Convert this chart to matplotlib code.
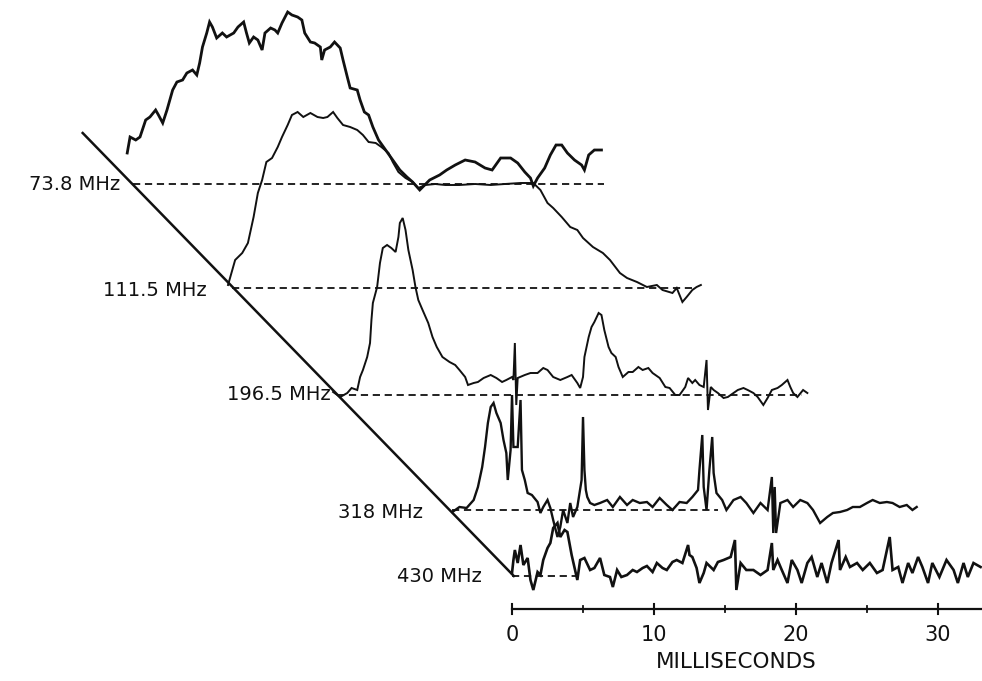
import numpy as np
import matplotlib
matplotlib.use("Agg")
import matplotlib.pyplot as plt

# frequency channels and the level each trace sits at (relative units)
freq_labels = ["73.8 MHz", "111.5 MHz", "196.5 MHz", "318 MHz", "430 MHz"]
offsets = [497, 393, 286, 171, 105]
base_start = [-26.7, -19.7, -12.3, -4.2, 0.0]   # ms, where each baseline begins
base_end = [6.5, 12.7, 20.4, 14.5, 4.6]         # ms, where each dashed baseline stops

# 73.8 MHz profile
t738 = [-27.1, -26.9, -26.5, -26.2, -25.8, -25.5, -25.1, -24.9, -24.6, -24.3,
        -23.9, -23.6, -23.2, -22.9, -22.5, -22.2, -22.0, -21.8, -21.5, -21.3,
        -21.1, -20.8, -20.4, -20.1, -19.6, -19.3, -18.9, -18.7, -18.5, -18.2,
        -17.9, -17.6, -17.4, -17.0, -16.7, -16.5, -16.2, -15.8, -15.5, -15.1,
        -14.8, -14.6, -14.2, -13.9, -13.5, -13.4, -13.2, -12.8, -12.5, -12.1,
        -11.9, -11.6, -11.4, -10.9, -10.7, -10.4, -10.1, -9.8, -9.4, -8.9,
        -8.4, -7.9, -7.4, -7.0, -6.5, -5.8, -5.1, -4.6, -4.0, -3.3,
        -2.6, -1.9, -1.4, -0.8, -0.1, 0.4, 0.9, 1.3, 1.5, 1.8,
        2.3, 2.7, 3.1, 3.5, 3.9, 4.4, 4.9, 5.1, 5.4, 5.8, 6.3]
a738 = [31, 47, 44, 47, 64, 67, 74, 69, 61, 74,
        94, 102, 104, 111, 114, 109, 121, 137, 151, 162,
        157, 146, 151, 147, 151, 157, 162, 151, 141, 147,
        144, 134, 151, 156, 154, 151, 161, 172, 169, 167,
        164, 151, 142, 141, 137, 124, 134, 137, 142, 136,
        124, 107, 96, 94, 84, 72, 69, 57, 44, 34,
        24, 14, 7, 2, -6, 4, 9, 14, 19, 24,
        22, 16, 14, 26, 26, 21, 12, 6, -2, 6,
        16, 29, 39, 39, 31, 24, 19, 14, 29, 34, 34]

# 111.5 MHz profile
t1115 = [-20.0, -19.5, -19.0, -18.6, -18.2, -17.9, -17.6, -17.3, -16.9, -16.5,
         -16.2, -15.8, -15.5, -15.1, -14.7, -14.2, -13.7, -13.3, -13.0, -12.6,
         -12.3, -11.9, -11.4, -10.9, -10.5, -10.1, -9.6, -9.2, -8.7, -8.4,
         -8.0, -7.5, -7.0, -6.6, -6.1, -5.4, -4.7, -3.7, -2.6, -1.5,
         -0.5, 0.6, 1.5, 2.0, 2.5, 2.9, 3.5, 4.1, 4.6, 5.0,
         5.7, 6.4, 6.9, 7.6, 8.1, 8.8, 9.5, 10.2, 10.6, 11.3,
         11.6, 12.0, 12.3, 12.7, 13.0, 13.3]
a1115 = [3, 28, 35, 45, 71, 95, 108, 126, 130, 141,
         151, 163, 173, 176, 171, 175, 171, 170, 171, 176,
         170, 163, 161, 158, 153, 146, 145, 141, 135, 126,
         116, 110, 106, 100, 103, 104, 103, 103, 104, 103,
         104, 105, 105, 98, 85, 80, 71, 61, 58, 50,
         41, 35, 28, 15, 10, 6, 1, 3, -2, -5,
         0, -14, -9, -2, 1, 3]

# 196.5 MHz profile
t1965 = [-12.6, -12.1, -11.6, -11.3, -10.9, -10.7, -10.5, -10.2, -10.0, -9.9,
         -9.8, -9.5, -9.3, -9.1, -8.8, -8.5, -8.2, -8.0, -7.9, -7.7,
         -7.5, -7.3, -7.0, -6.8, -6.6, -6.3, -5.9, -5.6, -5.3, -4.9,
         -4.4, -4.0, -3.7, -3.3, -3.1, -2.7, -2.4, -2.0, -1.5, -1.1,
         -0.7, -0.4, 0.0, 0.1, 0.2, 0.3, 0.4, 0.9, 1.3, 1.8,
         2.2, 2.5, 2.9, 3.4, 3.9, 4.2, 4.6, 4.8, 5.0, 5.1,
         5.4, 5.6, 5.8, 6.1, 6.3, 6.5, 6.8, 7.0, 7.3, 7.5,
         7.8, 8.2, 8.5, 8.9, 9.2, 9.6, 9.9, 10.4, 10.8, 11.1,
         11.5, 11.8, 12.2, 12.4, 12.7, 12.9, 13.2, 13.5, 13.7, 13.8,
         14.0, 14.2, 14.5, 14.9, 15.2, 15.6, 15.9, 16.3, 16.6, 17.0,
         17.3, 17.7, 18.0, 18.3, 18.7, 19.0, 19.4, 19.6, 19.8, 20.1,
         20.5, 20.8]
a1965 = [3, -2, 2, 7, 5, 18, 25, 38, 52, 75,
         92, 108, 132, 147, 150, 147, 143, 158, 172, 177,
         165, 145, 125, 108, 95, 85, 72, 58, 48, 38,
         33, 30, 25, 18, 10, 12, 13, 17, 20, 17,
         13, 15, 18, 15, 52, -10, 17, 20, 22, 22,
         27, 25, 18, 15, 18, 20, 12, 7, 18, 38,
         58, 68, 73, 82, 80, 65, 48, 42, 38, 28,
         18, 23, 23, 28, 25, 27, 22, 17, 8, 7,
         0, 0, 8, 17, 12, 15, 10, 8, 35, -15,
         8, 5, 2, -3, -2, 2, 5, 7, 5, 2,
         -2, -10, -3, 5, 7, 10, 15, 8, 2, -2,
         5, 2]

# 318 MHz profile
t318 = [-4.2, -3.7, -3.2, -2.7, -2.4, -2.1, -1.9, -1.7, -1.5, -1.3,
        -1.1, -0.8, -0.6, -0.4, -0.3, -0.1, 0.0, 0.1, 0.4, 0.6,
        0.7, 0.9, 1.1, 1.4, 1.8, 2.0, 2.2, 2.5, 2.7, 2.9,
        3.2, 3.4, 3.6, 3.9, 4.1, 4.3, 4.6, 4.9, 5.0, 5.1,
        5.2, 5.3, 5.5, 5.8, 6.2, 6.7, 7.1, 7.6, 8.1, 8.5,
        9.0, 9.5, 9.9, 10.4, 10.9, 11.3, 11.8, 12.3, 12.7, 13.1,
        13.2, 13.4, 13.5, 13.7, 13.9, 14.1, 14.2, 14.4, 14.8, 15.1,
        15.6, 16.1, 16.5, 17.0, 17.5, 18.0, 18.3, 18.4, 18.5, 18.6,
        18.9, 19.4, 19.8, 20.3, 20.8, 21.2, 21.7, 22.2, 22.6, 23.1,
        23.6, 24.0, 24.5, 25.0, 25.4, 25.9, 26.4, 26.8, 27.3, 27.8,
        28.2, 28.5]
a318 = [-2, 3, 2, 10, 23, 43, 63, 87, 103, 107,
        97, 87, 70, 57, 30, 60, 115, 63, 63, 110,
        40, 30, 17, 15, 8, -3, 3, 10, 2, -10,
        -27, -17, 0, -13, 7, -7, 3, 30, 93, 40,
        20, 13, 7, 5, 7, 10, 3, 13, 5, 10,
        7, 8, 3, 12, 5, 0, 8, 7, 13, 20,
        40, 75, 23, 0, 40, 73, 37, 17, 10, 0,
        10, 13, 7, -3, 7, 0, 33, -23, 23, -23,
        7, 10, 3, 10, 7, 0, -13, -7, -3, -2,
        0, 3, 3, 7, 10, 7, 8, 7, 3, 5,
        0, 3]

# 430 MHz profile
t430 = [0.0, 0.1, 0.2, 0.4, 0.6, 0.8, 1.1, 1.3, 1.5, 1.8,
        2.0, 2.2, 2.5, 2.7, 2.9, 3.2, 3.4, 3.7, 3.9, 4.2,
        4.6, 4.8, 5.1, 5.5, 5.8, 6.2, 6.5, 6.9, 7.1, 7.4,
        7.7, 8.1, 8.5, 8.8, 9.2, 9.5, 9.9, 10.2, 10.6, 10.9,
        11.3, 11.6, 12.0, 12.4, 12.5, 12.7, 13.0, 13.2, 13.5, 13.7,
        14.2, 14.5, 14.9, 15.4, 15.7, 15.8, 16.1, 16.5, 17.0, 17.5,
        18.0, 18.3, 18.4, 18.7, 19.0, 19.4, 19.7, 20.1, 20.4, 20.8,
        21.1, 21.5, 21.8, 22.2, 22.5, 23.0, 23.1, 23.5, 23.8, 24.3,
        24.7, 25.2, 25.7, 26.1, 26.6, 26.8, 27.2, 27.5, 27.9, 28.2,
        28.6, 28.9, 29.3, 29.6, 30.1, 30.6, 31.1, 31.4, 31.8, 32.1,
        32.5, 33.0]
a430 = [3, 16, 26, 13, 31, 11, 18, -4, -14, 4,
        1, 16, 28, 33, 48, 53, 39, 46, 44, 21,
        -4, 16, 18, 6, 8, 18, 1, -1, -11, 6,
        -1, 1, 6, 4, 8, 10, 4, 13, 8, 6,
        14, 16, 13, 31, 21, 19, 8, -7, 3, 13,
        6, 14, 16, 19, 36, -14, 13, 6, 6, 1,
        6, 33, 6, 16, 6, -7, 16, 6, -7, 13,
        19, -1, 13, -7, 13, 36, 6, 19, 9, 13,
        6, 13, 3, 6, 39, 6, 9, -7, 13, 3,
        19, 9, -7, 13, -1, 16, 6, -7, 13, -1,
        13, 9]

traces = [(t738, a738, 2.0), (t1115, a1115, 1.4), (t1965, a1965, 1.4),
          (t318, a318, 1.7), (t430, a430, 1.9)]

ms_ticks = [0, 10, 20, 30]

ink = "#111111"
fig = plt.figure(figsize=(9.82, 6.81), dpi=100)
ax = fig.add_axes([0, 0, 1, 1])
ax.set_xlim(-36.06, 33.10)
ax.set_ylim(0, 681)
ax.axis("off")

for (t, a, lw), off, t0, t1 in zip(traces, offsets, base_start, base_end):
    ax.plot([t0, t1], [off, off], color=ink, lw=1.3, ls=(0, (4, 2.6)))
    ax.plot(t, np.array(a) + off, color=ink, lw=lw, solid_joinstyle="miter")

# dispersion sweep: straight line through the baseline starts, carried up past 73.8 MHz
k, c = np.polyfit(offsets, base_start, 1)
y_top = offsets[0] + 51
ax.plot([k * y_top + c, k * offsets[-1] + c], [y_top, offsets[-1]], color=ink, lw=1.8)

label_x = [-27.6, -21.5, -12.8, -6.3, -2.1]
label_y = [497, 391, 286, 169, 104]
for lab, lx, ly in zip(freq_labels, label_x, label_y):
    ax.text(lx, ly, lab, ha="right", va="center", fontsize=14, color=ink)

# time axis
axis_y = 72
ax.plot([0, 33.1], [axis_y, axis_y], color=ink, lw=1.6)
for m in ms_ticks:
    ax.plot([m, m], [axis_y - 5, axis_y + 5], color=ink, lw=1.5)
    ax.text(m, axis_y - 26, str(m), ha="center", va="center", fontsize=15, color=ink)
for m in [5, 15, 25]:
    ax.plot([m, m], [axis_y - 3, axis_y + 3], color=ink, lw=1.3)
ax.text(15.8, axis_y - 53, "MILLISECONDS", ha="center", va="center", fontsize=15.5, color=ink)

fig.savefig("out.png", dpi=100, facecolor="white")
